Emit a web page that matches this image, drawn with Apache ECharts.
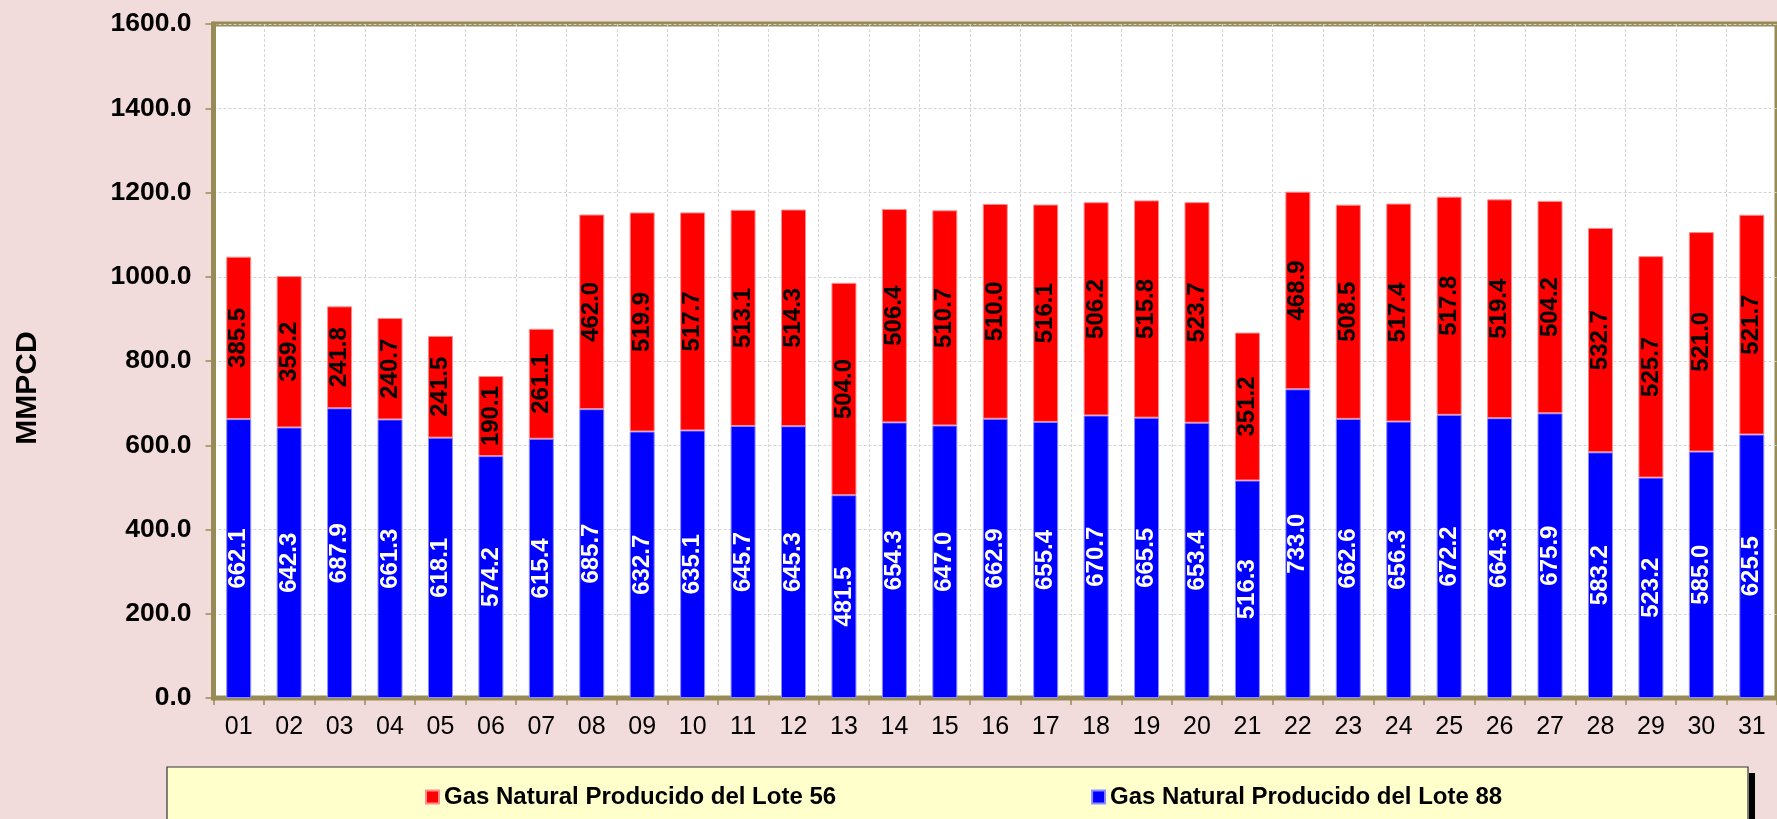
<!DOCTYPE html>
<html>
<head>
<meta charset="utf-8">
<script src="https://cdn.jsdelivr.net/npm/echarts@6/dist/echarts.min.js"></script>
<style>
html,body{margin:0;padding:0;background:#F2DCDB;}
#chart{width:1777px;height:819px;}
</style>
</head>
<body>
<div id="chart"></div>
<script>
const categories = ['01','02','03','04','05','06','07','08','09','10','11','12','13','14','15','16','17','18','19','20','21','22','23','24','25','26','27','28','29','30','31'];
const lote88 = [662.1,642.3,687.9,661.3,618.1,574.2,615.4,685.7,632.7,635.1,645.7,645.3,481.5,654.3,647.0,662.9,655.4,670.7,665.5,653.4,516.3,733.0,662.6,656.3,672.2,664.3,675.9,583.2,523.2,585.0,625.5];
const lote56 = [385.5,359.2,241.8,240.7,241.5,190.1,261.1,462.0,519.9,517.7,513.1,514.3,504.0,506.4,510.7,510.0,516.1,506.2,515.8,523.7,351.2,468.9,508.5,517.4,517.8,519.4,504.2,532.7,525.7,521.0,521.7];
const seriesNames = ['Gas Natural Producido del Lote 56','Gas Natural Producido del Lote 88'];
const yAxisTitle = 'MMPCD';

const FONT = '"Liberation Sans", Arial, sans-serif';
const OLIVE = '#978C55';

const chart = echarts.init(document.getElementById('chart'), null, {renderer:'canvas'});
chart.setOption({
  backgroundColor: '#F2DCDB',
  animation: false,
  textStyle: {fontFamily: FONT},
  grid: {
    left: 213.5, top: 24, width: 1570, height: 674,
    show: true, backgroundColor: '#FFFFFF', borderColor: OLIVE, borderWidth: 5,
    containLabel: false
  },
  graphic: [
    {type:'rect', shape:{x:1749, y:773, width:6, height:60}, style:{fill:'#000000'}, z:0},
    {type:'rect', shape:{x:167, y:767, width:1581, height:60}, style:{fill:'#FFFFCC', stroke:'#333333', lineWidth:1.2}, z:1},
    {type:'text', x: 28, y: 388, rotation: Math.PI/2,
     style:{text: yAxisTitle, font: 'bold 30px ' + FONT, fill:'#000000', textAlign:'center', textVerticalAlign:'middle'}, z:5}
  ],
  legend: {
    data: seriesNames,
    left: 420, top: 780,
    itemWidth: 13, itemHeight: 13, itemGap: 255,
    icon: 'rect',
    textStyle: {fontFamily: FONT, fontSize: 24, fontWeight: 'bold', color: '#000000'},
    z: 10
  },
  xAxis: {
    type: 'category',
    data: categories,
    boundaryGap: true,
    axisLine: {show: true, lineStyle: {color: OLIVE, width: 4}},
    axisTick: {show: true, length: 7, alignWithLabel: false, interval: 0, lineStyle: {color: OLIVE, width: 1.5}},
    axisLabel: {interval: 0, margin: 17, fontSize: 25, color: '#000000', fontFamily: FONT},
    splitLine: {show: true, interval: 0, lineStyle: {color: '#D4D4D4', type: [3,2], width: 1}}
  },
  yAxis: {
    type: 'value',
    min: 0, max: 1600, interval: 200,
    axisLine: {show: true, lineStyle: {color: OLIVE, width: 5}},
    axisTick: {show: true, length: 8, lineStyle: {color: OLIVE, width: 1.5}},
    axisLabel: {margin: 22, fontSize: 26.5, fontWeight: 'bold', color: '#000000', fontFamily: FONT,
      formatter: v => v.toFixed(1)},
    splitLine: {show: true, lineStyle: {color: '#D4D4D4', type: [3,2], width: 1}}
  },
  series: [
    {
      name: seriesNames[1], type: 'bar', stack: 'total', data: lote88, barWidth: 25,
      itemStyle: {color: '#0000FF', borderColor: '#8C8CFF', borderWidth: 1},
      label: {show: true, position: 'inside', rotate: 90, color: '#FFFFFF', fontSize: 24, fontWeight: 'bold',
        fontFamily: FONT, formatter: p => p.value.toFixed(1)}
    },
    {
      name: seriesNames[0], type: 'bar', stack: 'total', data: lote56, barWidth: 25,
      itemStyle: {color: '#FF0000', borderColor: '#FF8C8C', borderWidth: 1},
      label: {show: true, position: 'inside', rotate: 90, color: '#000000', fontSize: 24, fontWeight: 'bold',
        fontFamily: FONT, formatter: p => p.value.toFixed(1)}
    }
  ]
});
</script>
</body>
</html>
